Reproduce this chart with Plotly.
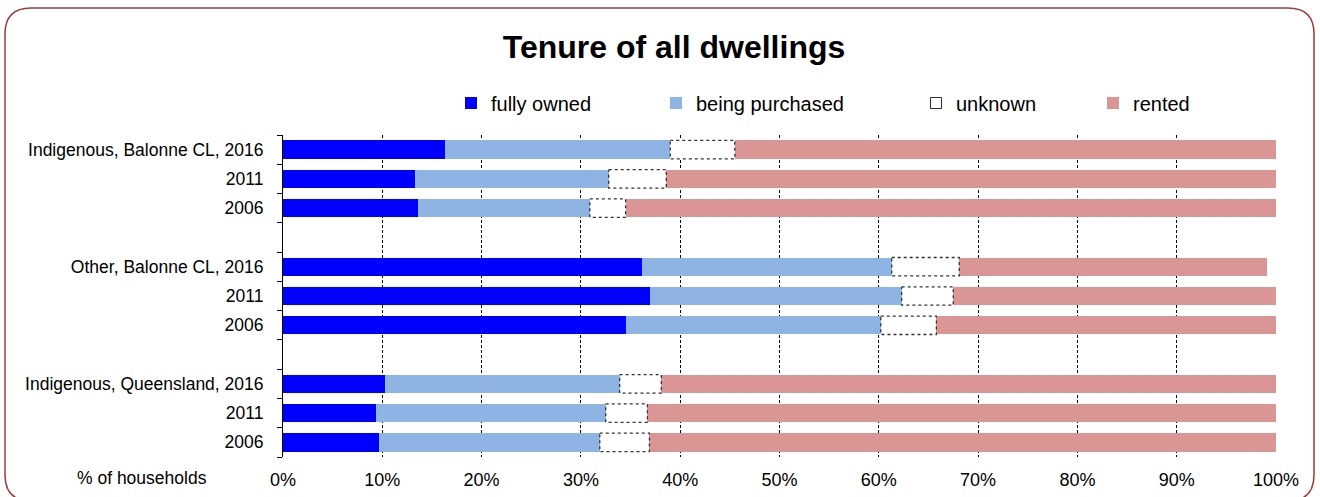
import plotly.graph_objects as go

# ---- data ----
row_labels = ["Indigenous, Balonne CL, 2016", "2011", "2006",
              "Other, Balonne CL, 2016", "2011", "2006",
              "Indigenous, Queensland, 2016", "2011", "2006"]
row_pos = [0, 1, 2, 4, 5, 6, 8, 9, 10]
fully_owned = [16.3, 13.3, 13.6, 36.2, 37.0, 34.5, 10.3, 9.4, 9.7]
being_purchased = [22.7, 19.5, 17.3, 25.1, 25.3, 25.7, 23.6, 23.1, 22.2]
unknown = [6.5, 5.8, 3.6, 6.8, 5.2, 5.6, 4.2, 4.2, 5.0]
rented = [54.5, 61.4, 65.5, 31.0, 32.5, 34.2, 61.9, 63.3, 63.1]
x_ticks = list(range(0, 101, 10))
x_tick_text = [f"{v}%" for v in x_ticks]

# ---- layout geometry (pixels) ----
W, H = 1320, 497
ML, MR, MT, MB = 283, 44, 135, 40
PW, PH = W - ML - MR, H - MT - MB
FONT = "Liberation Sans, Arial, sans-serif"
BAR_W = 0.63


def px_x(px):
    return (px - ML) / PW


def px_y(py):
    return (H - MB - py) / PH


fig = go.Figure()

fig.add_trace(go.Bar(y=row_pos, x=fully_owned, orientation="h", name="fully owned",
                     marker=dict(color="#0000FF", line=dict(width=0)), width=BAR_W,
                     legend="legend"))
fig.add_trace(go.Bar(y=row_pos, x=being_purchased, orientation="h", name="being purchased",
                     marker=dict(color="#8DB4E2", line=dict(width=0)), width=BAR_W,
                     legend="legend2"))
fig.add_trace(go.Bar(y=row_pos, x=unknown, orientation="h", name="unknown",
                     marker=dict(color="#FFFFFF", line=dict(width=0)), width=BAR_W,
                     showlegend=False))
fig.add_trace(go.Bar(y=row_pos, x=rented, orientation="h", name="rented",
                     marker=dict(color="#DA9694", line=dict(width=0)), width=BAR_W,
                     legend="legend4"))

# dotted outline around the "unknown" segments, built from the data
ox, oy = [], []
for p, f, b, u in zip(row_pos, fully_owned, being_purchased, unknown):
    x0 = f + b
    x1 = x0 + u
    y0 = p - BAR_W / 2
    y1 = p + BAR_W / 2
    ox += [x0, x1, x1, x0, x0, None]
    oy += [y0, y0, y1, y1, y0, None]
fig.add_trace(go.Scatter(x=ox, y=oy, mode="lines", showlegend=False, hoverinfo="skip",
                         line=dict(color="#333333", width=1.3, dash="dot")))

# legend entry for "unknown"
fig.add_trace(go.Scatter(x=[None], y=[None], mode="markers", name="unknown",
                         marker=dict(symbol="square", size=11, color="#FFFFFF",
                                     line=dict(color="#333333", width=1)),
                         legend="legend3"))

leg_common = dict(orientation="h", yanchor="middle", y=px_y(103), xanchor="left",
                  font=dict(family=FONT, size=20, color="#000000"),
                  bgcolor="rgba(0,0,0,0)", borderwidth=0, itemclick=False)

# rounded border
L, T, R, B, RAD = 5, 8, 1314, 501, 26
path = (f"M{px_x(L)},{px_y(T + RAD)} "
        f"Q{px_x(L)},{px_y(T)} {px_x(L + RAD)},{px_y(T)} "
        f"L{px_x(R - RAD)},{px_y(T)} "
        f"Q{px_x(R)},{px_y(T)} {px_x(R)},{px_y(T + RAD)} "
        f"L{px_x(R)},{px_y(B - RAD)} "
        f"Q{px_x(R)},{px_y(B)} {px_x(R - RAD)},{px_y(B)} "
        f"L{px_x(L + RAD)},{px_y(B)} "
        f"Q{px_x(L)},{px_y(B)} {px_x(L)},{px_y(B - RAD)} Z")

LEG_SHIFT = -7

fig.update_layout(
    width=W, height=H,
    margin=dict(l=ML, r=MR, t=MT, b=MB, autoexpand=False),
    barmode="stack",
    paper_bgcolor="#FFFFFF", plot_bgcolor="#FFFFFF",
    font=dict(family=FONT, size=17.5, color="#000000"),
    title=dict(text="<b>Tenure of all dwellings</b>", x=674 / W, xref="container", xanchor="center",
               y=1 - 47 / H, yref="container", yanchor="middle",
               font=dict(family=FONT, size=32, color="#000000")),
    legend=dict(leg_common, x=px_x(458 + LEG_SHIFT)),
    legend2=dict(leg_common, x=px_x(663 + LEG_SHIFT)),
    legend3=dict(leg_common, x=px_x(923 + LEG_SHIFT)),
    legend4=dict(leg_common, x=px_x(1100 + LEG_SHIFT)),
    xaxis=dict(range=[0, 100], tickvals=x_ticks, ticktext=x_tick_text,
               showgrid=True, gridcolor="#000000", gridwidth=1, griddash="3px,2px",
               zeroline=False, showline=False, ticks="", ticklabelstandoff=10,
               tickfont=dict(family=FONT, size=18, color="#000000"), fixedrange=True),
    yaxis=dict(range=[10.5, -0.5], tickvals=row_pos, ticktext=row_labels,
               showgrid=False, zeroline=False, showline=True, linecolor="#000000", linewidth=1,
               ticks="", ticklabelstandoff=15,
               minor=dict(tick0=0.5, dtick=1, ticks="outside", ticklen=5,
                          tickcolor="#000000", tickwidth=1, showgrid=False),
               tickfont=dict(family=FONT, size=17.5, color="#000000"), fixedrange=True),
    shapes=[dict(type="path", xref="paper", yref="paper", path=path,
                 line=dict(color="#9E3B3B", width=1.5), layer="above")],
    annotations=[dict(text="% of households", xref="paper", yref="paper",
                      x=px_x(142), y=px_y(478), xanchor="center", yanchor="middle",
                      showarrow=False, font=dict(family=FONT, size=17.5, color="#000000"))],
)

fig.write_html("out.html", config={"displayModeBar": False},
               post_script="document.body.style.margin='0';")
